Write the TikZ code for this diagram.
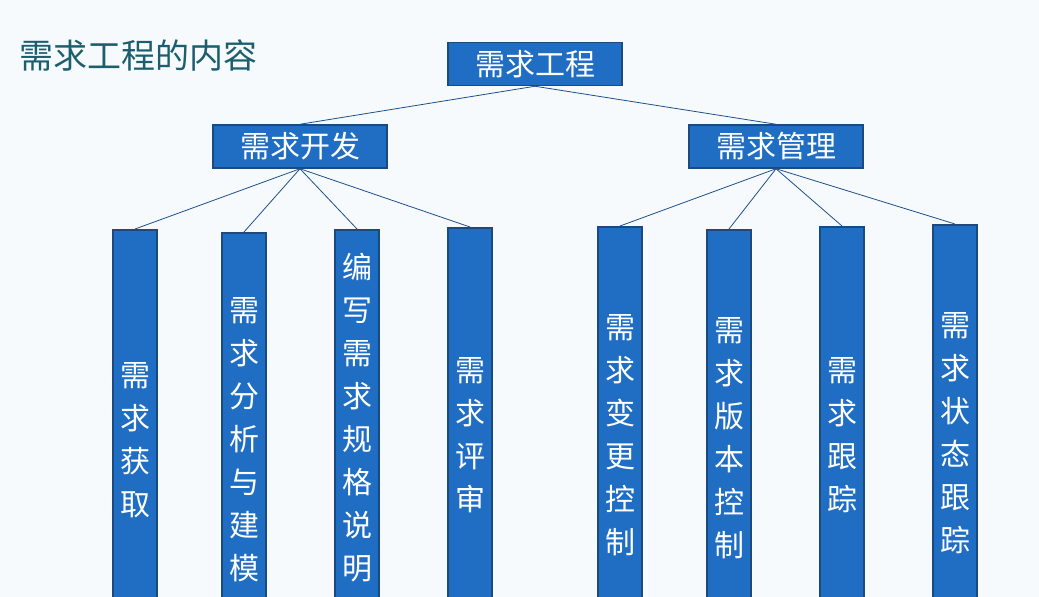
\documentclass[tikz,border=0pt]{standalone}
\usepackage{fontspec}
\newfontfamily\cjk{Noto Sans CJK SC}
\definecolor{bg}{HTML}{F6FAFC}
\definecolor{boxblue}{HTML}{1F6EC4}
\definecolor{boxedge}{HTML}{1A4A80}
\definecolor{titlec}{HTML}{1D5E6E}
\definecolor{linec}{HTML}{1F4E8C}
\begin{document}
\begin{tikzpicture}[x=1pt,y=-1pt,
  hbox/.style={draw=boxedge,line width=1.5pt,fill=boxblue,text=white,font=\cjk\fontsize{30}{30}\selectfont,minimum width=174pt,minimum height=43pt,inner sep=0pt},
  vbox/.style={draw=boxedge,line width=1.5pt,fill=boxblue,minimum width=44pt,anchor=north,inner sep=0pt},
  vtext/.style={text=white,font=\cjk\fontsize{30}{43}\selectfont,align=center,inner sep=0pt},
  conn/.style={linec,line width=0.8pt}]
\useasboundingbox (0,0) rectangle (1039,597);
\fill[bg] (0,0) rectangle (1039,597);
\clip (0,0) rectangle (1039,597);
\node[text=titlec,font=\cjk\fontsize{34}{34}\selectfont,anchor=west] (title) at (16,55) {需求工程的内容};
\node[hbox] (top) at (535,64) {需求工程};
\node[hbox] (dev) at (300,146.5) {需求开发};
\node[hbox] (mgt) at (776,146.5) {需求管理};
\foreach \n/\x/\y in {a/135/229,b/244/232,c/357/229,d/470/227,e/620/226,f/729/229,g/842/226,h/955/224}{
  \node[vbox,minimum height={620-\y}] (\n) at (\x,\y) {};
}
\node[vtext] (ta) at (135,440) {需\\求\\获\\取};
\node[vtext] (tb) at (244,440) {需\\求\\分\\析\\与\\建\\模};
\node[vtext] (tc) at (357,418) {编\\写\\需\\求\\规\\格\\说\\明};
\node[vtext] (td) at (470,435) {需\\求\\评\\审};
\node[vtext] (te) at (620,435) {需\\求\\变\\更\\控\\制};
\node[vtext] (tf) at (729,438) {需\\求\\版\\本\\控\\制};
\node[vtext] (tg) at (842,435) {需\\求\\跟\\踪};
\node[vtext] (th) at (955,433) {需\\求\\状\\态\\跟\\踪};
\draw[conn] (top.south) -- (dev.north);
\draw[conn] (top.south) -- (mgt.north);
\foreach \n in {a,b,c,d}{\draw[conn] (dev.south) -- (\n.north);}
\foreach \n in {e,f,g,h}{\draw[conn] (mgt.south) -- (\n.north);}
\end{tikzpicture}
\end{document}
